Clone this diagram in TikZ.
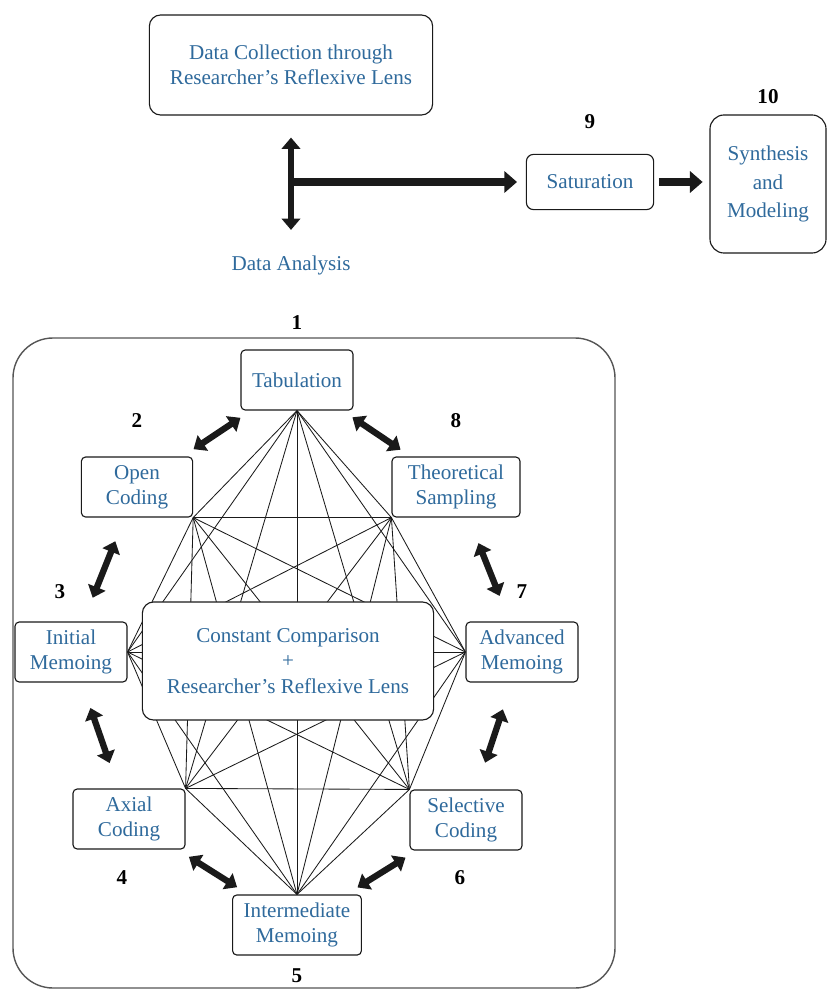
\documentclass[tikz,border=0pt]{standalone}
\usepackage{fontspec}
\setmainfont{Liberation Serif}
\usepackage{tikz}
\usetikzlibrary{arrows.meta, positioning, backgrounds}
\usepackage{xcolor}
\definecolor{ink}{HTML}{1A1A1A}
\definecolor{txtblue}{HTML}{2F6A9C}
\definecolor{framegray}{HTML}{555555}

\begin{document}
\begin{tikzpicture}[
  x=0.025cm, y=-0.025cm,
  stage/.style={draw=ink, fill=white, rounded corners=3pt, align=center, text=txtblue,
                font=\fontsize{15}{18}\selectfont, inner sep=2pt, line width=0.8pt,
                minimum width=2.8cm, minimum height=1.5cm},
  bigbox/.style={stage, rounded corners=8pt},
  lbl/.style={text=txtblue, font=\fontsize{15}{18}\selectfont, inner sep=0pt},
  num/.style={font=\fontsize{15}{15}\selectfont\bfseries, inner sep=0pt},
  fat/.style={-{Triangle[length=9pt, width=15pt]}, line width=5.5pt, draw=ink},
  twin/.style={{Triangle[length=8pt, width=13pt]}-{Triangle[length=8pt, width=13pt]},
               line width=4.5pt, draw=ink},
  cyc/.style={twin, shorten <=#1, shorten >=#1},
  cyc/.default=1.5cm,
  mesh/.style={draw=ink, line width=0.6pt}
]
\useasboundingbox (0,0) rectangle (828,990);

% top row
\node[bigbox, minimum width=7.08cm, minimum height=2.5cm] (coll) at (291,65)
  {Data Collection through\\ Researcher's Reflexive Lens};
\node[lbl] (anal) at (291,265) {Data Analysis};
\node[stage, rounded corners=5pt, minimum width=3.18cm, minimum height=1.38cm] (sat) at (590,182) {Saturation};
\node[stage, rounded corners=10pt, minimum width=2.9cm, minimum height=3.45cm,
      font=\fontsize{15}{20.5}\selectfont] (synth) at (768,184) {Synthesis\\ and\\ Modeling};

\draw[twin, shorten <=0.55cm, shorten >=0.63cm] (coll.south) -- (anal.north);
\draw[fat, shorten >=0.22cm] (coll.south |- sat.west) -- (sat.west);
\draw[fat, shorten <=0.12cm, shorten >=0.17cm] (sat.east) -- (sat.east -| synth.west);

% analysis loop
\draw[framegray, line width=1pt, rounded corners=1cm] (13,338) rectangle (615,988);

\node[stage] (tab) at (297,380) {Tabulation};
\node[stage, minimum width=2.78cm] (open) at (137,487) {Open\\ Coding};
\node[stage, minimum width=3.2cm] (theo) at (456,487) {Theoretical\\ Sampling};
\node[stage] (init) at (71,652) {Initial\\ Memoing};
\node[stage] (adv) at (522,652) {Advanced\\ Memoing};
\node[stage] (axial) at (129,819) {Axial\\ Coding};
\node[stage] (sel) at (466,820) {Selective\\ Coding};
\node[stage, minimum width=3.22cm] (inter) at (297,925) {Intermediate\\ Memoing};
\node[bigbox, minimum width=7.28cm, minimum height=2.95cm] (core) at (288,661)
  {Constant Comparison\\ +\\ Researcher's Reflexive Lens};

\begin{scope}[on background layer]
\foreach \a [count=\i] in {tab.south, open.south east, init.east, axial.north east,
                           inter.north, sel.north west, adv.west, theo.south west}
  \foreach \b [count=\j] in {tab.south, open.south east, init.east, axial.north east,
                             inter.north, sel.north west, adv.west, theo.south west}
    {\ifnum\j>\i \draw[mesh] (\a) -- (\b);\fi}
\end{scope}

\draw[cyc=1.7cm] (tab.center) -- (open.center);
\draw[cyc=1.67cm] (tab.center) -- (theo.center);
\draw[cyc=1.46cm] (open.center) -- (init.center);
\draw[cyc=1.51cm] (theo.center) -- (adv.center);
\draw[cyc=1.48cm] (init.center) -- (axial.center);
\draw[cyc=1.51cm] (adv.center) -- (sel.center);
\draw[cyc=1.77cm] (axial.center) -- (inter.center);
\draw[cyc=1.78cm] (inter.center) -- (sel.center);

% step numbers
\node[num, above=0.5cm of tab] (n1) {1};
\node[num, above=0.72cm of open] (n2) {2};
\node[num, above=0.57cm of init, xshift=-0.28cm] (n3) {3};
\node[num, below=0.52cm of axial, xshift=-0.18cm] (n4) {4};
\node[num, below=0.33cm of inter] (n5) {5};
\node[num, below=0.5cm of sel, xshift=-0.15cm] (n6) {6};
\node[num, above=0.57cm of adv] (n7) {7};
\node[num, above=0.72cm of theo] (n8) {8};
\node[num, above=0.62cm of sat] (n9) {9};
\node[num, above=0.25cm of synth] (n10) {10};
\end{tikzpicture}
\end{document}
